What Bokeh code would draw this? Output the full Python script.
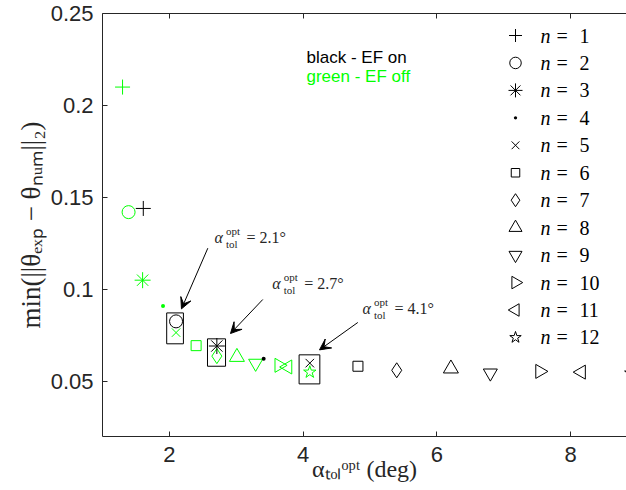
import math
from bokeh.plotting import figure
from bokeh.models import (Range1d, FixedTicker, LinearAxis, Label, Arrow, VeeHead)
from bokeh.embed import file_html
from bokeh.resources import INLINE

# ---------------- data ----------------
n_values = list(range(1, 13))

# black - EF on
alpha_ef_on = [1.61, 2.10, 2.71, 3.41, 4.10, 4.82, 5.40, 6.21, 6.80, 7.54, 8.16, 8.90]
err_ef_on = [0.144, 0.0826, 0.0692, 0.0623, 0.0599, 0.0582, 0.0560, 0.0569, 0.0545, 0.0554, 0.0550, 0.0545]

# green - EF off
alpha_ef_off = [1.30, 1.39, 1.60, 1.905, 2.10, 2.40, 2.71, 3.01, 3.29, 3.64, 3.77, 4.10]
err_ef_off = [0.210, 0.142, 0.105, 0.0909, 0.0765, 0.0694, 0.0637, 0.0632, 0.0598, 0.0587, 0.0578, 0.0550]

x_ticks = [2, 4, 6, 8]
y_ticks = [0.05, 0.1, 0.15, 0.2, 0.25]
y_tick_labels = ["0.05", "0.1", "0.15", "0.2", "0.25"]

opt_values = ["= 2.1°", "= 2.7°", "= 4.1°"]
box_left = [1.96, 2.57, 3.94]
box_right = [2.21, 2.84, 4.25]
box_bottom = [0.0704, 0.0582, 0.0486]
box_top = [0.0872, 0.0731, 0.0644]
arrow_x_start = [2.575, 3.397, 4.818]
arrow_y_start = [0.1224, 0.0945, 0.0820]
arrow_x_end = [2.181, 2.914, 4.245]
arrow_y_end = [0.0894, 0.0760, 0.0671]

# ---------------- style ----------------
marker_types = ["cross", "circle", "asterisk", "dot", "x", "square", "diamond",
                "triangle", "inverted_triangle", "triangle", "triangle", "star"]
marker_sizes = [15, 13, 16, 16, 12, 10, 15, 15, 14, 14, 14, 13]
legend_sizes = [13, 11.5, 14, 13, 11, 8.5, 13, 13, 13, 12.5, 12.5, 12]
marker_angles = [0, 0, 0, 0, 0, 0, 0, 0, 0, -math.pi / 2, math.pi / 2, 0]
GREEN = "#00ff00"
AX = "#262626"
SERIF = "Liberation Serif"

W, H = 626, 490
FL, FT, FR, FB = 102, 13, 0, 54
X0, X1 = 1.0, 8.836
Y0, Y1 = 0.02, 0.25
FW, FH = W - FL - FR, H - FT - FB


def xd(px):
    return X0 + (px - FL) * (X1 - X0) / FW


def yd(py):
    return Y1 - (py - FT) * (Y1 - Y0) / FH


p = figure(width=W, height=H, output_backend="svg", toolbar_location=None,
           x_range=Range1d(X0, X1), y_range=Range1d(Y0, Y1),
           min_border_left=FL, min_border_right=FR, min_border_top=FT,
           min_border_bottom=FB, background_fill_color="white",
           border_fill_color="white")
p.outline_line_color = None
p.grid.visible = False

for ax in (p.xaxis[0], p.yaxis[0]):
    ax.major_tick_in = 5
    ax.major_tick_out = 0
    ax.minor_tick_in = 0
    ax.minor_tick_out = 0
    ax.axis_line_color = AX
    ax.major_tick_line_color = AX
    ax.major_label_text_font = "Liberation Sans"
    ax.major_label_text_font_size = "22px"
    ax.major_label_text_color = AX
    ax.axis_label_text_font = SERIF
    ax.axis_label_text_font_style = "normal"
    ax.axis_label_text_color = AX

p.xaxis.ticker = FixedTicker(ticks=x_ticks)
p.xaxis.major_label_overrides = {t: str(t) for t in x_ticks}
p.xaxis.major_label_standoff = 10
p.xaxis.axis_label = "α\u209c\u2092\u2097\u1d52\u1d56\u1d57 (deg)"
p.xaxis.axis_label_text_font_size = "24px"
p.xaxis.axis_label_standoff = -9

p.yaxis.ticker = FixedTicker(ticks=y_ticks)
p.yaxis.major_label_overrides = {t: s for t, s in zip(y_ticks, y_tick_labels)}
p.yaxis.major_label_standoff = 9
p.yaxis.axis_label = "min(||θ\u2091\u2093\u209a − θ\u2099\u1d64\u2098||\u2082)"
p.yaxis.axis_label_text_font_size = "27px"
p.yaxis.axis_label_standoff = 2

top = LinearAxis(ticker=FixedTicker(ticks=x_ticks), major_tick_in=5, major_tick_out=0,
                 minor_tick_in=0, minor_tick_out=0, axis_line_color=AX,
                 major_tick_line_color=AX, major_label_text_font_size="0px",
                 major_label_text_color=None, major_label_standoff=0)
p.add_layout(top, "above")

# ---------------- markers ----------------
for i in range(len(n_values)):
    p.scatter(x=[alpha_ef_off[i]], y=[err_ef_off[i]], marker=marker_types[i],
              size=marker_sizes[i], angle=marker_angles[i], line_color=GREEN,
              fill_color=GREEN if marker_types[i] == "dot" else None, line_width=1)
for i in range(len(n_values)):
    p.scatter(x=[alpha_ef_on[i]], y=[err_ef_on[i]], marker=marker_types[i],
              size=marker_sizes[i], angle=marker_angles[i], line_color="black",
              fill_color="black" if marker_types[i] == "dot" else None, line_width=1)

# boxes around optimal tolerances
p.quad(left=box_left, right=box_right, bottom=box_bottom, top=box_top,
       fill_color=None, line_color="black", line_width=1)

for i in range(3):
    p.add_layout(Arrow(end=VeeHead(size=11, fill_color="black", line_color="black"),
                       x_start=arrow_x_start[i], y_start=arrow_y_start[i],
                       x_end=arrow_x_end[i], y_end=arrow_y_end[i],
                       line_color="black", line_width=1))

# annotation texts  alpha^opt_tol = ...
ann_anchor_px = [(214, 237), (271.7, 283), (362, 307.5)]
for (lx, my), txt in zip(ann_anchor_px, opt_values):
    p.add_layout(Label(x=xd(lx), y=yd(my), text="α", text_font=SERIF,
                       text_font_style="italic", text_font_size="16px",
                       text_color=AX, text_baseline="middle"))
    p.add_layout(Label(x=xd(lx + 11.5), y=yd(my - 6.5), text="opt", text_font=SERIF,
                       text_font_size="11px", text_color=AX, text_baseline="middle"))
    p.add_layout(Label(x=xd(lx + 11.5), y=yd(my + 6.5), text="tol", text_font=SERIF,
                       text_font_size="11px", text_color=AX, text_baseline="middle"))
    p.add_layout(Label(x=xd(lx + 32), y=yd(my), text=txt, text_font=SERIF,
                       text_font_size="16px", text_color=AX, text_baseline="middle"))

# EF on/off note
p.add_layout(Label(x=xd(306), y=yd(57), text="black - EF on", text_font="Liberation Sans",
                   text_font_size="17px", text_color="black", text_baseline="middle"))
p.add_layout(Label(x=xd(306), y=yd(76), text="green - EF off", text_font="Liberation Sans",
                   text_font_size="17px", text_color=GREEN, text_baseline="middle"))

# ---------------- legend (key markers + labels) ----------------
LEG_X, LEG_Y0, LEG_DY = 515, 35, 27.45
for i, n in enumerate(n_values):
    ry = LEG_Y0 + i * LEG_DY
    p.scatter(x=[xd(LEG_X)], y=[yd(ry)], marker=marker_types[i], size=legend_sizes[i],
              angle=marker_angles[i], line_color="black",
              fill_color="black" if marker_types[i] == "dot" else None, line_width=1)
    p.add_layout(Label(x=xd(540), y=yd(ry), text="n", text_font=SERIF,
                       text_font_style="italic", text_font_size="20px",
                       text_color="black", text_baseline="middle"))
    p.add_layout(Label(x=xd(556), y=yd(ry), text="=", text_font=SERIF,
                       text_font_size="20px", text_color="black", text_baseline="middle"))
    p.add_layout(Label(x=xd(579), y=yd(ry), text=str(n), text_font=SERIF,
                       text_font_size="20px", text_color="black", text_baseline="middle"))

open("out.html", "w").write(file_html(p, INLINE))
